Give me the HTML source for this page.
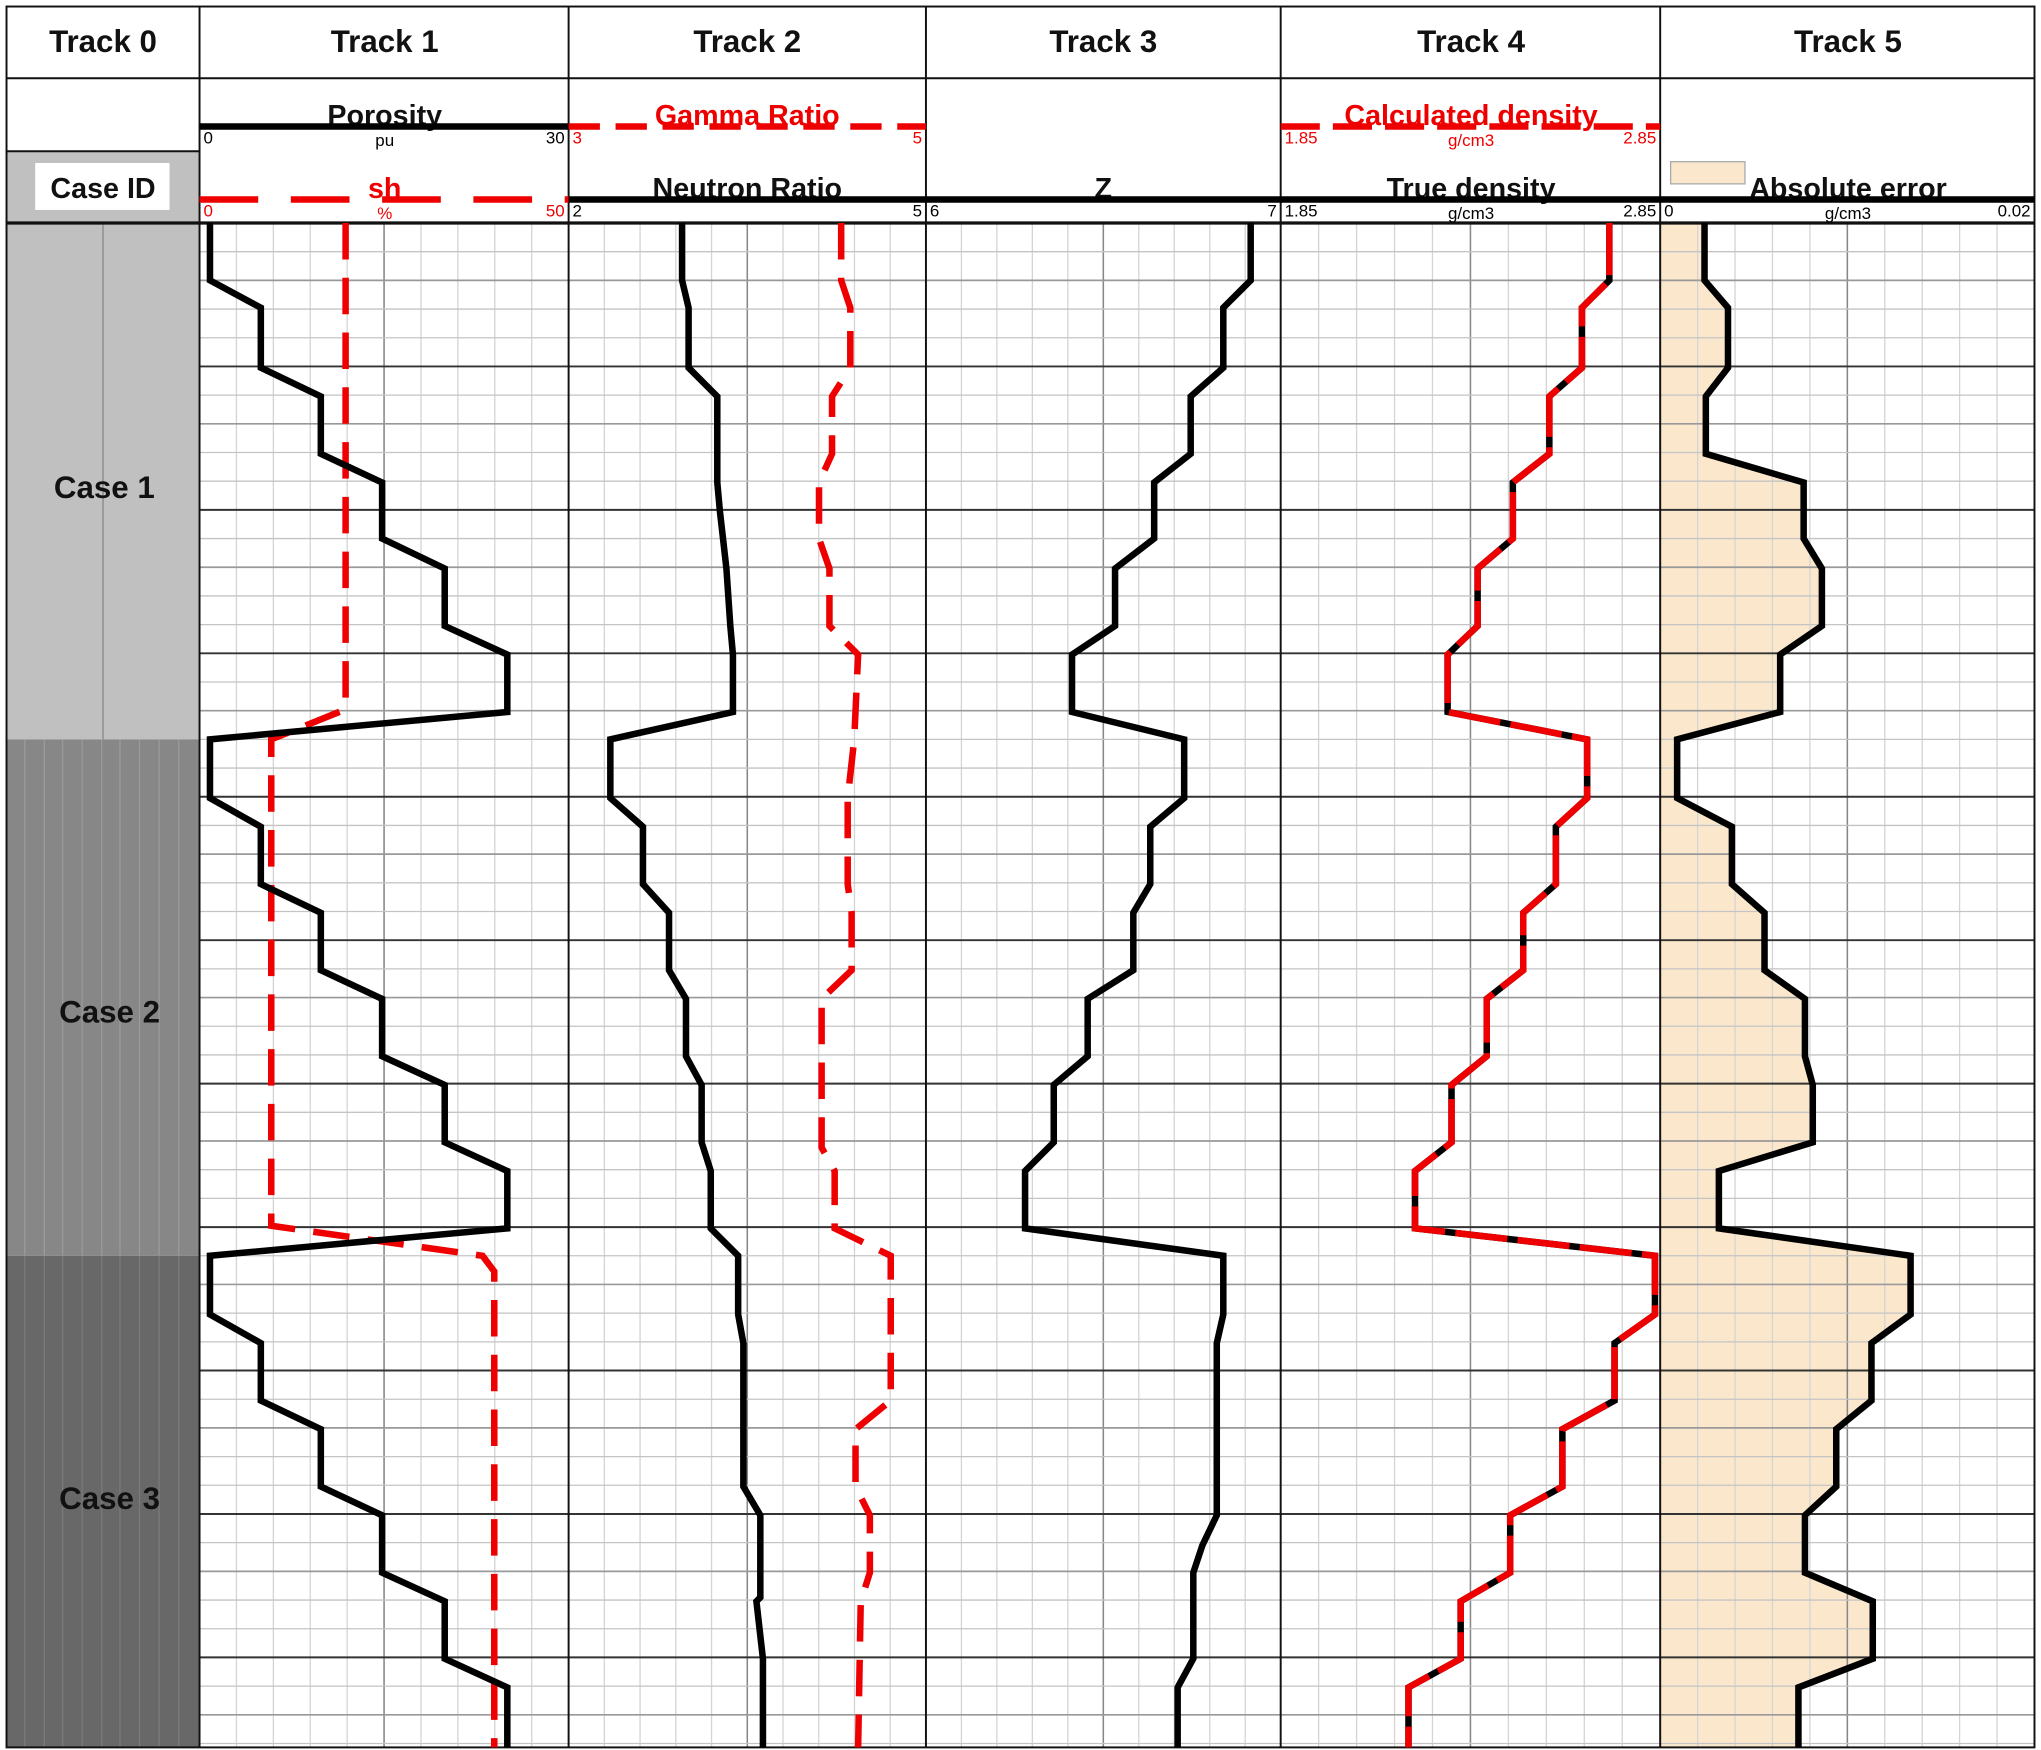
<!DOCTYPE html>
<html><head><meta charset="utf-8"><style>
html,body{margin:0;padding:0;background:#fff;}
svg{display:block;}
text{font-family:"Liberation Sans",Arial,sans-serif;}
</style></head><body>
<svg width="2041" height="1750" viewBox="0 0 1565 1342" preserveAspectRatio="none" xmlns="http://www.w3.org/2000/svg">
<rect x="0" y="0" width="1565" height="1342" fill="#fff"/>
<!-- Track0 backgrounds -->
<rect x="5" y="116" width="148" height="55" fill="#c0c0c0"/>
<rect x="27" y="125" width="103" height="36" fill="#fff"/>
<rect x="5" y="171" width="148" height="396" fill="#c0c0c0"/>
<line x1="79" y1="171" x2="79" y2="567" stroke="#888" stroke-width="1"/>
<rect x="5" y="567" width="148" height="396" fill="#878787"/>
<rect x="5" y="963" width="148" height="377" fill="#686868"/>
<g stroke="#9a9a9a" stroke-width="1">
<line x1="19" y1="567" x2="19" y2="963"/><line x1="34" y1="567" x2="34" y2="963"/><line x1="48" y1="567" x2="48" y2="963"/><line x1="63" y1="567" x2="63" y2="963"/><line x1="78" y1="567" x2="78" y2="963"/><line x1="92" y1="567" x2="92" y2="963"/><line x1="107" y1="567" x2="107" y2="963"/><line x1="122" y1="567" x2="122" y2="963"/><line x1="137" y1="567" x2="137" y2="963"/>
</g>
<g stroke="#7a7a7a" stroke-width="1">
<line x1="19" y1="963" x2="19" y2="1340"/><line x1="34" y1="963" x2="34" y2="1340"/><line x1="48" y1="963" x2="48" y2="1340"/><line x1="63" y1="963" x2="63" y2="1340"/><line x1="78" y1="963" x2="78" y2="1340"/><line x1="92" y1="963" x2="92" y2="1340"/><line x1="107" y1="963" x2="107" y2="1340"/><line x1="122" y1="963" x2="122" y2="1340"/><line x1="137" y1="963" x2="137" y2="1340"/>
</g>
<!-- Track5 fill -->
<polygon fill="#fbe8cc" points="1273,171 1307,171 1307,215 1325,236 1325,282 1308,304 1308,348 1383,370 1383,413 1397,436 1397,480 1365,502 1365,546 1286,567 1286,612 1328,634 1328,678 1353,700 1353,744 1384,766 1384,810 1390,832 1390,876 1318,898 1318,942 1465,963 1465,1008 1435,1030 1435,1074 1408,1096 1408,1140 1384,1162 1384,1206 1436,1228 1436,1272 1379,1294 1379,1340 1273,1340"/>
<!-- grid -->
<g id="grid"></g>
<script>
(function(){
var g=document.getElementById('grid'),ns='http://www.w3.org/2000/svg';
function L(x1,y1,x2,y2,c,w){var l=document.createElementNS(ns,'line');l.setAttribute('x1',x1);l.setAttribute('y1',y1);l.setAttribute('x2',x2);l.setAttribute('y2',y2);l.setAttribute('stroke',c);l.setAttribute('stroke-width',w);g.appendChild(l);}
var tr=[[153,436],[436,710],[710,982],[982,1273],[1273,1560]];
tr.forEach(function(t){var w=t[1]-t[0];for(var i=1;i<10;i++){var x=t[0]+w*i/10;L(x,171,x,1340,i==5?'#888':'#d4d4d4',i==5?1.2:1);}});
for(var k=0;;k++){var y=171+22*k;if(y>1340)break;var m=k%5;
 var c=m==0?'#333':(m==2?'#999':'#c4c4c4');var w=m==0?1.5:(m==2?1.3:1);
 L(153,y,1560,y,c,w);}
})();
</script>
<!-- frame lines -->
<g stroke="#111" stroke-width="1.5" fill="none">
<rect x="5" y="5" width="1555" height="1335"/>
<line x1="5" y1="60" x2="1560" y2="60"/>
<line x1="5" y1="171" x2="1560" y2="171" stroke-width="2.5"/>
<line x1="5" y1="116" x2="153" y2="116"/>
<line x1="153" y1="5" x2="153" y2="1340"/>
<line x1="436" y1="5" x2="436" y2="1340"/>
<line x1="710" y1="5" x2="710" y2="1340"/>
<line x1="982" y1="5" x2="982" y2="1340"/>
<line x1="1273" y1="5" x2="1273" y2="1340"/>
</g>
<!-- header titles -->
<g font-weight="bold" font-size="24" text-anchor="middle" fill="#111">
<text x="79" y="40">Track 0</text><text x="295" y="40">Track 1</text><text x="573" y="40">Track 2</text><text x="846" y="40">Track 3</text><text x="1128" y="40">Track 4</text><text x="1417" y="40">Track 5</text>
<text x="79" y="152" font-size="22">Case ID</text>
<text x="80" y="382">Case 1</text><text x="84" y="784">Case 2</text><text x="84" y="1157">Case 3</text>
</g>
<!-- header curve labels -->
<g font-weight="bold" font-size="22" text-anchor="middle">
<text x="295" y="96" fill="#111">Porosity</text>
<text x="573" y="96" fill="#e00">Gamma Ratio</text>
<text x="1128" y="96" fill="#e00">Calculated density</text>
<text x="295" y="152" fill="#e00">sh</text>
<text x="573" y="152" fill="#111">Neutron Ratio</text>
<text x="846" y="152" fill="#111">Z</text>
<text x="1128" y="152" fill="#111">True density</text>
<text x="1417" y="152" fill="#111">Absolute error</text>
</g>
<line x1="153" y1="97" x2="436" y2="97" stroke="#000" stroke-width="5"/>
<line x1="436" y1="97" x2="710" y2="97" stroke="#e00" stroke-width="5" stroke-dasharray="24 12"/>
<line x1="982" y1="97" x2="1273" y2="97" stroke="#e00" stroke-width="5" stroke-dasharray="30 10"/>
<line x1="153" y1="153" x2="436" y2="153" stroke="#e00" stroke-width="5" stroke-dasharray="45 25"/>
<line x1="436" y1="153" x2="1560" y2="153" stroke="#000" stroke-width="5"/>
<rect x="1281" y="124" width="57" height="17" fill="#fbe8cc" stroke="#aaa" stroke-width="1"/>
<g font-size="13">
<text x="156" y="110">0</text><text x="295" y="112" text-anchor="middle">pu</text><text x="433" y="110" text-anchor="end">30</text>
<text x="439" y="110" fill="#e00">3</text><text x="707" y="110" text-anchor="end" fill="#e00">5</text>
<text x="985" y="110" fill="#e00">1.85</text><text x="1128" y="112" text-anchor="middle" fill="#e00">g/cm3</text><text x="1270" y="110" text-anchor="end" fill="#e00">2.85</text>
<text x="156" y="166" fill="#e00">0</text><text x="295" y="168" text-anchor="middle" fill="#e00">%</text><text x="433" y="166" text-anchor="end" fill="#e00">50</text>
<text x="439" y="166">2</text><text x="707" y="166" text-anchor="end">5</text>
<text x="713" y="166">6</text><text x="979" y="166" text-anchor="end">7</text>
<text x="985" y="166">1.85</text><text x="1128" y="168" text-anchor="middle">g/cm3</text><text x="1270" y="166" text-anchor="end">2.85</text>
<text x="1276" y="166">0</text><text x="1417" y="168" text-anchor="middle">g/cm3</text><text x="1557" y="166" text-anchor="end">0.02</text>
</g>
<!-- curves -->
<g fill="none" stroke-width="5" stroke-linejoin="miter">
<polyline stroke="#e00" stroke-dasharray="28 14" points="265,171 265,544 208,567 208,940 370,963 379,975 379,1340"/>
<polyline stroke="#000" points="161,171 161,215 200,236 200,282 246,304 246,348 293,370 293,413 341,436 341,480 389,502 389,546 161,567 161,612 200,634 200,678 246,700 246,744 293,766 293,810 341,832 341,876 389,898 389,942 161,963 161,1008 200,1030 200,1074 246,1096 246,1140 293,1162 293,1206 341,1228 341,1272 389,1294 389,1340"/>
<polyline stroke="#000" points="523,171 523,215 528,236 528,282 550,304 550,370 552,392 557,436 560,480 562,502 562,546 468,567 468,612 493,634 493,678 513,700 513,744 526,766 526,810 538,832 538,876 545,898 545,942 566,963 566,1008 570,1030 570,1140 583,1162 583,1225 580,1228 585,1272 585,1340"/>
<polyline stroke="#e00" stroke-dasharray="28 14" points="645,171 645,215 652,236 652,282 638,304 638,348 628,370 628,413 636,436 636,480 658,502 655,567 650,612 650,678 653,700 653,744 630,766 630,880 640,898 640,942 683,963 683,1074 656,1096 656,1140 667,1162 667,1206 660,1228 658,1340"/>
<polyline stroke="#000" points="959,171 959,215 938,236 938,282 913,304 913,348 885,370 885,413 855,436 855,480 822,502 822,546 908,567 908,612 882,634 882,678 869,700 869,744 834,766 834,810 808,832 808,876 786,898 786,942 938,963 938,1008 933,1030 933,1162 922,1185 915,1206 915,1272 903,1294 903,1340"/>
<polyline stroke="#000" points="1234,171 1234,215 1213,236 1213,282 1188,304 1188,348 1160,370 1160,413 1133,436 1133,480 1110,502 1110,546 1217,567 1217,612 1193,634 1193,678 1168,700 1168,744 1140,766 1140,810 1113,832 1113,876 1085,898 1085,942 1269,963 1269,1008 1238,1030 1238,1074 1198,1096 1198,1140 1158,1162 1158,1206 1120,1228 1120,1272 1080,1294 1080,1340"/>
<polyline stroke="#e00" stroke-dasharray="40 8" points="1234,171 1234,215 1213,236 1213,282 1188,304 1188,348 1160,370 1160,413 1133,436 1133,480 1110,502 1110,546 1217,567 1217,612 1193,634 1193,678 1168,700 1168,744 1140,766 1140,810 1113,832 1113,876 1085,898 1085,942 1269,963 1269,1008 1238,1030 1238,1074 1198,1096 1198,1140 1158,1162 1158,1206 1120,1228 1120,1272 1080,1294 1080,1340"/>
<polyline stroke="#000" points="1307,171 1307,215 1325,236 1325,282 1308,304 1308,348 1383,370 1383,413 1397,436 1397,480 1365,502 1365,546 1286,567 1286,612 1328,634 1328,678 1353,700 1353,744 1384,766 1384,810 1390,832 1390,876 1318,898 1318,942 1465,963 1465,1008 1435,1030 1435,1074 1408,1096 1408,1140 1384,1162 1384,1206 1436,1228 1436,1272 1379,1294 1379,1340"/>
</g>
</svg>
</body></html>
